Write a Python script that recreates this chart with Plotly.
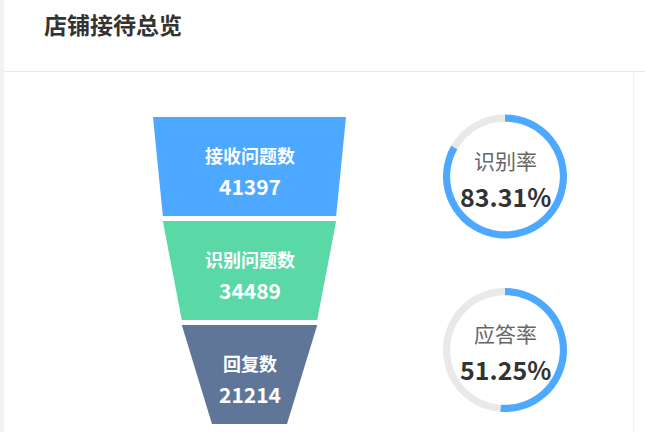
import plotly.graph_objects as go

# ---- data ----
title = "店铺接待总览"
stage_names = ["接收问题数", "识别问题数", "回复数"]
stage_values = [41397, 34489, 21214]
stage_colors = ["#4DA8FF", "#5AD8A6", "#5F7699"]
rate_names = ["识别率", "应答率"]
rate_values = [83.31, 51.25]

FONT = "Noto Sans CJK SC"
W, H = 645, 432

fig = go.Figure()

# ---- funnel geometry (pixel-like axes) ----
cx = 249.5
top0 = 117
seg_h = 99
gap = 5
max_w, min_w = 193, 75
vmax = max(stage_values)


def width(v):
    return min_w + (max_w - min_w) * v / vmax


nxt = stage_values[1:] + [0]
for i, (name, v, nv, col) in enumerate(zip(stage_names, stage_values, nxt, stage_colors)):
    yt = top0 + i * (seg_h + gap)
    yb = yt + seg_h
    wt, wb = width(v), width(nv)
    fig.add_trace(go.Scatter(
        x=[cx - wt / 2, cx + wt / 2, cx + wb / 2, cx - wb / 2, cx - wt / 2],
        y=[yt, yt, yb, yb, yt],
        fill="toself", fillcolor=col, mode="lines", line=dict(width=0, color=col),
        hoverinfo="skip", showlegend=False,
    ))
    ym = (yt + yb) / 2
    fig.add_annotation(x=cx, y=ym - 12, xref="x", yref="y", text=f"<b>{name}</b>",
                       showarrow=False, font=dict(family=FONT, size=18, color="white"))
    fig.add_annotation(x=cx, y=ym + 19, xref="x", yref="y", text=f"<b>{v}</b>",
                       showarrow=False, font=dict(family=FONT, size=21, color="white"))

# ---- donuts ----
centers_y = [176.5, 350]
R = 62
for name, r, cy in zip(rate_names, rate_values, centers_y):
    cxd = 505
    fig.add_trace(go.Pie(
        values=[r, 100 - r], marker=dict(colors=["#4DA8FF", "#E9E9E9"], line=dict(width=0)),
        hole=0.885, sort=False, direction="clockwise", rotation=0,
        textinfo="none", hoverinfo="skip", showlegend=False,
        domain=dict(x=[(cxd - R) / W, (cxd + R) / W], y=[(H - cy - R) / H, (H - cy + R) / H]),
    ))
    fig.add_annotation(x=cxd, y=cy - 17, xref="x", yref="y", text=name, showarrow=False,
                       font=dict(family=FONT, size=21, color="#666666"))
    fig.add_annotation(x=cxd, y=cy + 19, xref="x", yref="y", text=f"<b>{r:.2f}%</b>", showarrow=False,
                       font=dict(family=FONT, size=25, color="#333333"))

# ---- page decoration ----
fig.add_shape(type="rect", x0=0, x1=4, y0=0, y1=H, xref="x", yref="y",
              fillcolor="#F0F2F5", line=dict(width=0), layer="below")
fig.add_shape(type="line", x0=4, x1=W, y0=71.5, y1=71.5, xref="x", yref="y",
              line=dict(color="#E8E8E8", width=1))
fig.add_shape(type="line", x0=633.5, x1=633.5, y0=72, y1=H, xref="x", yref="y",
              line=dict(color="#F2F2F2", width=1))
fig.add_annotation(x=42, y=24, xref="x", yref="y", text=f"<b>{title}</b>", showarrow=False,
                   xanchor="left", font=dict(family=FONT, size=23, color="#333333"))

fig.update_layout(
    width=W, height=H, margin=dict(l=0, r=0, t=0, b=0),
    paper_bgcolor="white", plot_bgcolor="white",
    xaxis=dict(range=[0, W], visible=False, fixedrange=True),
    yaxis=dict(range=[H, 0], visible=False, fixedrange=True),
)
fig.write_html("out.html", config={"displayModeBar": False},
               post_script="document.body.style.margin='0';document.body.style.overflow='hidden';")
